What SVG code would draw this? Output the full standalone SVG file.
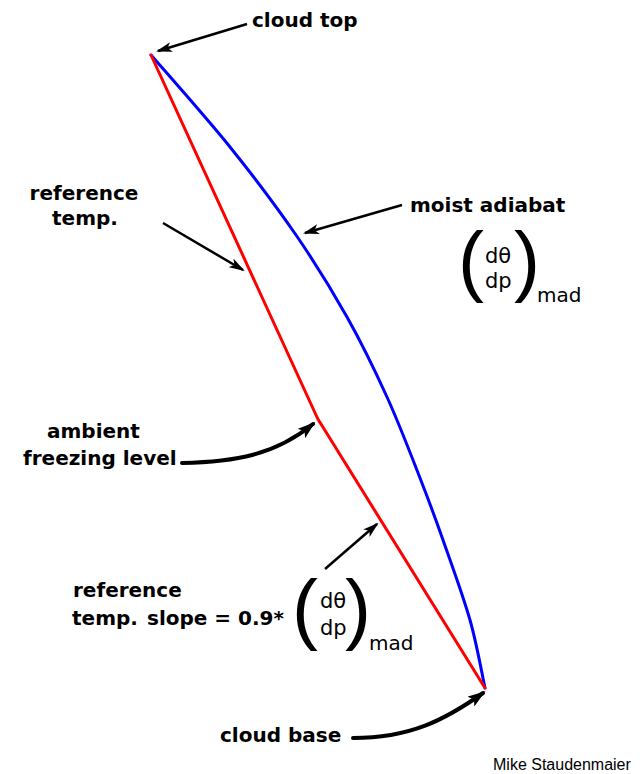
<svg xmlns="http://www.w3.org/2000/svg" width="640" height="774" viewBox="0 0 640 774">
<defs>
<style>
.lbl{font-family:"DejaVu Sans",sans-serif;font-weight:bold;font-size:20px;fill:#000}
.f{font-family:"DejaVu Sans",sans-serif;font-size:21px;fill:#000}
.sub{font-family:"DejaVu Sans",sans-serif;font-size:20px;fill:#000}
.par{font-family:"Liberation Sans",sans-serif;font-size:78px;fill:#000}
.credit{font-family:"Liberation Sans",sans-serif;font-size:16px;fill:#000}
.arr{stroke:#000;stroke-width:2.5;fill:none;marker-end:url(#ah)}
.carr{stroke:#000;stroke-width:4;fill:none;stroke-linecap:round;marker-end:url(#ah2)}
.curve{fill:none;stroke-width:3;stroke-linejoin:round;stroke-linecap:round}
</style>
<marker id="ah" markerUnits="userSpaceOnUse" markerWidth="16" markerHeight="10" viewBox="0 0 16 10" refX="14" refY="5" orient="auto">
<path d="M0,0 L16,5 L0,10 L4,5 z" fill="#000"/>
</marker>
<marker id="ah2" markerUnits="userSpaceOnUse" markerWidth="18" markerHeight="12" viewBox="0 0 18 12" refX="15" refY="6" orient="auto">
<path d="M0,0 L18,6 L0,12 L4,6 z" fill="#000"/>
</marker>
</defs>
<rect width="640" height="774" fill="#fff"/>

<g id="moist-adiabat-curve">
<path class="curve" stroke="#0000ff" d="M151,55 C164.2,70.3 205.8,117 230,147 C254.2,177 276.5,206.7 296,235 C315.5,263.3 331.8,290 347,317 C362.2,344 374.8,370.2 387,397 C399.2,423.8 410.7,454.2 420,478 C429.3,501.8 434.7,516.3 443,540 C451.3,563.7 463,595.3 470,620 C477,644.7 482.5,676.7 485,688"/>
</g>
<g id="reference-temp-curve">
<path class="curve" stroke="#ff0000" d="M151,55 L316,415 Q318,420 321,424 L485,688"/>
</g>

<g id="connectors">
<path class="arr" d="M247,24 L158,51"/>
<path class="arr" d="M163,223 L243,270"/>
<path class="arr" d="M402,205 L305,233"/>
<path class="carr" d="M182,463 C235,462 275,455 313,424"/>
<path class="arr" d="M325,569 L377,524"/>
<path class="carr" d="M353,738 C410,738 445,720 483,693"/>
</g>

<g id="cloud-top">
<text class="lbl" x="252" y="27">cloud top</text>
</g>
<g id="reference-temp">
<text class="lbl" x="84" y="200" text-anchor="middle">reference</text>
<text class="lbl" x="85" y="225" text-anchor="middle">temp.</text>
</g>
<g id="moist-adiabat">
<text class="lbl" x="410" y="212">moist adiabat</text>
<text class="par" x="458" y="287">(</text>
<text class="f" x="485" y="263">dθ</text>
<text class="f" x="485" y="288">dp</text>
<text class="par" x="514" y="287">)</text>
<text class="sub" x="537" y="302">mad</text>
</g>
<g id="ambient-freezing-level">
<text class="lbl" x="47" y="438">ambient</text>
<text class="lbl" x="23" y="465">freezing level</text>
</g>
<g id="reference-temp-slope">
<text class="lbl" x="73" y="597">reference</text>
<text class="lbl" x="72" y="625">temp.<tspan x="147">slope = 0.9*</tspan></text>
<text class="par" x="292" y="635">(</text>
<text class="f" x="320" y="608">dθ</text>
<text class="f" x="320" y="635">dp</text>
<text class="par" x="345" y="635">)</text>
<text class="sub" x="369" y="650">mad</text>
</g>
<g id="cloud-base">
<text class="lbl" x="220" y="742">cloud base</text>
</g>
<g id="credit">
<text class="credit" x="493" y="770">Mike Staudenmaier</text>
</g>
</svg>
